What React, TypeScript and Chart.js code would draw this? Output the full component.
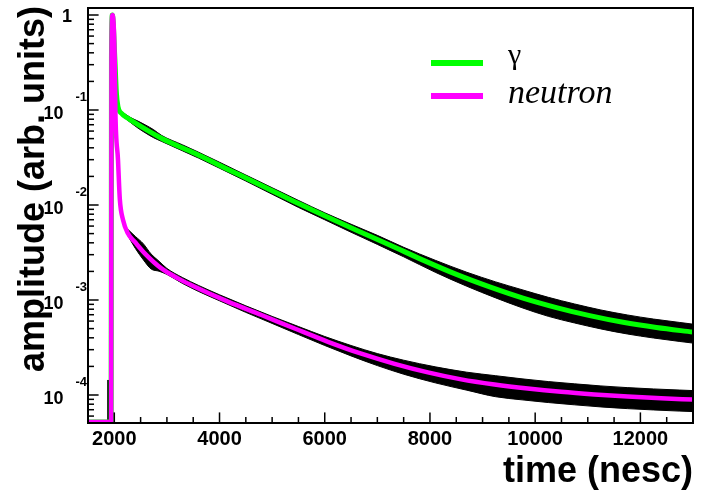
import React, { useEffect, useRef } from 'react';
import { Chart, registerables } from 'chart.js';

Chart.register(...registerables);

// ---- axis ranges ----
const X_MIN = 1500;
const X_MAX = 13000;
const Y_MIN = 5.073e-5;
const Y_MAX = 1.185;
const FLOOR = 5.2e-5; // curves clipped at the frame bottom

// ---- tick values / labels ----
const xTickValues = [1500, 2000, 2500, 3000, 3500, 4000, 4500, 5000, 5500, 6000, 6500, 7000, 7500, 8000, 8500, 9000, 9500, 10000, 10500, 11000, 11500, 12000, 12500, 13000];
const xLabelValues = [2000, 4000, 6000, 8000, 10000, 12000];
const yDecadeValues = [1, 1e-1, 1e-2, 1e-3, 1e-4];
const yDecadeExponents = ['0', '-1', '-2', '-3', '-4'];
const yMinorMultipliers = [2, 3, 4, 5, 6, 7, 8, 9];
const yMinorDecades = [1e-1, 1e-2, 1e-3, 1e-4, 1e-5];

// ---- legend / titles ----
const legendLabels = ['\u03b3', 'neutron'];
const xTitle = 'time (nesc)';
const yTitle = 'amplitude (arb. units)';

// ---- gamma fit (green) ----
const gammaFitT = [1500, 1940, 1946, 1964, 2010, 2040, 2070, 2135, 2260, 2388, 2895, 3528, 4161, 4796, 5429, 5968, 6603, 7235, 7868, 8503, 9136, 9769, 10404, 11037, 11670, 12305, 13000];
const gammaFitV = [FLOOR, FLOOR, 0.35, 1.0, 0.35, 0.15, 0.108, 0.0923, 0.0818, 0.0735, 0.0504, 0.035, 0.0237, 0.01603, 0.01084, 0.00785, 0.00543, 0.0038, 0.00263, 0.00186, 0.001374, 0.001047, 0.000832, 0.000684, 0.000582, 0.000513, 0.000459];

// ---- neutron fit (magenta) ----
const neutronFitT = [1500, 1940, 1946, 1964, 2008, 2020, 2070, 2105, 2165, 2260, 2388, 2578, 2895, 3211, 3528, 4161, 4796, 5429, 6062, 6695, 7328, 7961, 8594, 9227, 9860, 10493, 11126, 11759, 12392, 13000];
const neutronFitV = [FLOOR, FLOOR, 0.35, 1.0, 0.34, 0.1, 0.03, 0.0115, 0.007, 0.005, 0.0041, 0.0031, 0.00215, 0.00169, 0.00138, 0.00096, 0.000695, 0.000501, 0.000363, 0.000272, 0.000213, 0.000173, 0.000146, 0.000129, 0.000117, 0.000108, 0.0001014, 0.0000962, 0.0000923, 0.0000895];

// ---- gamma measured trace (black), upper / lower envelope ----
const gammaDataT = [2150, 2300, 2450, 2600, 2750, 2900, 3300, 3600, 4000, 4500, 5000, 5500, 6000, 6500, 7000, 7500, 8100, 8700, 9250, 9750, 10250, 10750, 11250, 11750, 12250, 12750, 13000];
const gammaDataHi = [0.0953, 0.0839, 0.0764, 0.0692, 0.0619, 0.054, 0.0429, 0.036, 0.0282, 0.02068, 0.0152, 0.01118, 0.00828, 0.00628, 0.00479, 0.00359, 0.00262, 0.00196, 0.001551, 0.001283, 0.001067, 0.000908, 0.000785, 0.000696, 0.00063, 0.00058, 0.000557];
const gammaDataLo = [0.0865, 0.0744, 0.0645, 0.057, 0.051, 0.0467, 0.0371, 0.0312, 0.0244, 0.01788, 0.01298, 0.00944, 0.00699, 0.00517, 0.00385, 0.00285, 0.00196, 0.001396, 0.001052, 0.000829, 0.000673, 0.000573, 0.000496, 0.000439, 0.000398, 0.000366, 0.000352];

// ---- neutron measured trace (black), upper / lower envelope ----
const neutronDataT = [2250, 2400, 2550, 2700, 2850, 3000, 3300, 3600, 4000, 4500, 5000, 5500, 6000, 6500, 7000, 7500, 8100, 8700, 9250, 9750, 10250, 10750, 11250, 11750, 12250, 12750, 13000];
const neutronDataHi = [0.00559, 0.00467, 0.00392, 0.00305, 0.00256, 0.00215, 0.00172, 0.001425, 0.001135, 0.000868, 0.000672, 0.000526, 0.000413, 0.000332, 0.000273, 0.0002325, 0.000198, 0.0001738, 0.0001596, 0.0001479, 0.0001385, 0.0001311, 0.0001246, 0.0001196, 0.0001158, 0.0001127, 0.0001113];
const neutronDataLo = [0.00484, 0.00349, 0.00266, 0.00212, 0.00201, 0.00186, 0.00149, 0.001232, 0.000981, 0.000741, 0.000567, 0.000433, 0.000332, 0.000258, 0.000204, 0.0001656, 0.0001343, 0.0001124, 0.0000959, 0.0000889, 0.0000833, 0.0000788, 0.0000749, 0.0000719, 0.0000696, 0.0000677, 0.0000669];

// ---- pre-pulse bin (black) ----
const preBinT = [1893, 1893];
const preBinV = [FLOOR, 1.44e-4];

const GREEN = '#00ff00';
const MAGENTA = '#ff00ff';
const SANS = '"Liberation Sans", Arial, Helvetica, sans-serif';
const SERIF = '"Liberation Serif", "Times New Roman", serif';

const pts = (t: number[], v: number[]) => t.map((x, i) => ({ x, y: v[i] }));

const rootStyle = {
  id: 'rootStyle',
  afterDatasetsDraw(chart: any) {
    const ctx = chart.ctx as CanvasRenderingContext2D;
    const { left, right, top, bottom } = chart.chartArea;
    const xs = chart.scales.x;
    const ys = chart.scales.y;
    ctx.save();
    ctx.strokeStyle = '#000';
    ctx.fillStyle = '#000';
    // ticks (inward)
    ctx.lineWidth = 1.5;
    xs.ticks.forEach((t: any) => {
      const px = xs.getPixelForValue(t.value);
      if (px <= left + 1 || px >= right - 1) return;
      const len = xLabelValues.includes(t.value) ? 10.6 : 6;
      ctx.beginPath();
      ctx.moveTo(px, bottom);
      ctx.lineTo(px, bottom - len);
      ctx.stroke();
    });
    ys.ticks.forEach((t: any) => {
      const py = ys.getPixelForValue(t.value);
      if (py <= top + 1 || py >= bottom - 1) return;
      const len = t.major ? 10.6 : 6;
      ctx.beginPath();
      ctx.moveTo(left, py);
      ctx.lineTo(left + len, py);
      ctx.stroke();
    });
    // frame
    ctx.lineWidth = 2;
    ctx.strokeRect(left, top, right - left, bottom - top);

    // y tick labels
    ctx.textBaseline = 'alphabetic';
    ctx.textAlign = 'right';
    yDecadeValues.forEach((v, i) => {
      const py = ys.getPixelForValue(v);
      const e = yDecadeExponents[i];
      if (e === '0') {
        ctx.font = `bold 18px ${SANS}`;
        ctx.fillText('1', 72, py + 6.5);
      } else {
        ctx.font = `bold 18px ${SANS}`;
        ctx.fillText('10', 63.5, py + 8.5);
        ctx.font = `bold 13px ${SANS}`;
        ctx.fillText(e, 87, py - 9.5);
      }
    });

    // axis titles
    ctx.font = `bold 36px ${SANS}`;
    ctx.textAlign = 'right';
    ctx.fillText(xTitle, 693, 482);
    ctx.save();
    ctx.translate(44, 6);
    ctx.rotate(-Math.PI / 2);
    ctx.textAlign = 'right';
    ctx.fillText(yTitle, 0, 0);
    ctx.restore();

    // legend
    const ds = chart.data.datasets;
    const entries = [
      { color: ds[1].borderColor, y: 63, label: legendLabels[0], font: `30px ${SERIF}`, base: 64 },
      { color: ds[0].borderColor, y: 96, label: legendLabels[1], font: `italic 34px ${SERIF}`, base: 103 },
    ];
    entries.forEach((en) => {
      ctx.strokeStyle = en.color;
      ctx.lineWidth = 6;
      ctx.beginPath();
      ctx.moveTo(431, en.y);
      ctx.lineTo(483, en.y);
      ctx.stroke();
      ctx.fillStyle = '#000';
      ctx.font = en.font;
      ctx.textAlign = 'left';
      ctx.fillText(en.label, 508, en.base);
    });
    ctx.restore();
  },
};

export default function App() {
  const ref = useRef<HTMLCanvasElement | null>(null);
  useEffect(() => {
    if (!ref.current) return;
    const band = (t: number[], v: number[], fill: any, order: number) => ({
      data: pts(t, v),
      borderColor: '#000',
      backgroundColor: '#000',
      borderWidth: 1,
      pointRadius: 0,
      fill,
      order,
      cubicInterpolationMode: 'monotone',
    });
    const chart = new Chart(ref.current, {
      type: 'line',
      data: {
        datasets: [
          {
            label: 'neutron',
            data: pts(neutronFitT, neutronFitV),
            borderColor: MAGENTA,
            borderWidth: 4.5,
            pointRadius: 0,
            fill: false,
            order: 0,
            cubicInterpolationMode: 'monotone',
          } as any,
          {
            label: 'gamma',
            data: pts(gammaFitT, gammaFitV),
            borderColor: GREEN,
            borderWidth: 5,
            pointRadius: 0,
            fill: false,
            order: 1,
            cubicInterpolationMode: 'monotone',
          } as any,
          band(gammaDataT, gammaDataHi, false, 2) as any,
          band(gammaDataT, gammaDataLo, '-1', 3) as any,
          band(neutronDataT, neutronDataHi, false, 4) as any,
          band(neutronDataT, neutronDataLo, '-1', 5) as any,
          { ...band(preBinT, preBinV, false, 6), borderWidth: 3 } as any,
        ],
      },
      options: {
        responsive: false,
        animation: false,
        devicePixelRatio: 1,
        layout: { padding: { left: 0, top: 8, right: 12, bottom: 0 } },
        plugins: { legend: { display: false }, tooltip: { enabled: false } },
        scales: {
          x: {
            type: 'linear',
            min: X_MIN,
            max: X_MAX,
            afterBuildTicks: (s: any) => {
              s.ticks = xTickValues.map((v) => ({ value: v }));
            },
            afterFit: (s: any) => {
              s.height = 68;
            },
            grid: { display: false, drawTicks: false },
            border: { display: false },
            ticks: {
              autoSkip: false,
              maxRotation: 0,
              minRotation: 0,
              padding: 4,
              color: '#000',
              font: { family: SANS, size: 20, weight: 'bold' },
              callback: (v: any) => (xLabelValues.includes(Number(v)) ? String(v) : ''),
            },
          },
          y: {
            type: 'logarithmic',
            min: Y_MIN,
            max: Y_MAX,
            afterBuildTicks: (s: any) => {
              const list: any[] = yDecadeValues.map((v) => ({ value: v, major: true }));
              yMinorDecades.forEach((d) =>
                yMinorMultipliers.forEach((m) => {
                  const v = m * d;
                  if (v > Y_MIN && v < Y_MAX) list.push({ value: v, major: false });
                })
              );
              s.ticks = list.sort((a, b) => a.value - b.value);
            },
            afterFit: (s: any) => {
              s.width = 88;
            },
            grid: { display: false },
            border: { display: false },
            ticks: { display: false },
          },
        },
      },
      plugins: [rootStyle as any],
    });
    return () => chart.destroy();
  }, []);
  return (
    <div style={{ position: 'absolute', left: 0, top: 0, width: 705, height: 491, background: '#fff' }}>
      <canvas ref={ref} width={705} height={491} style={{ display: 'block' }} />
    </div>
  );
}
